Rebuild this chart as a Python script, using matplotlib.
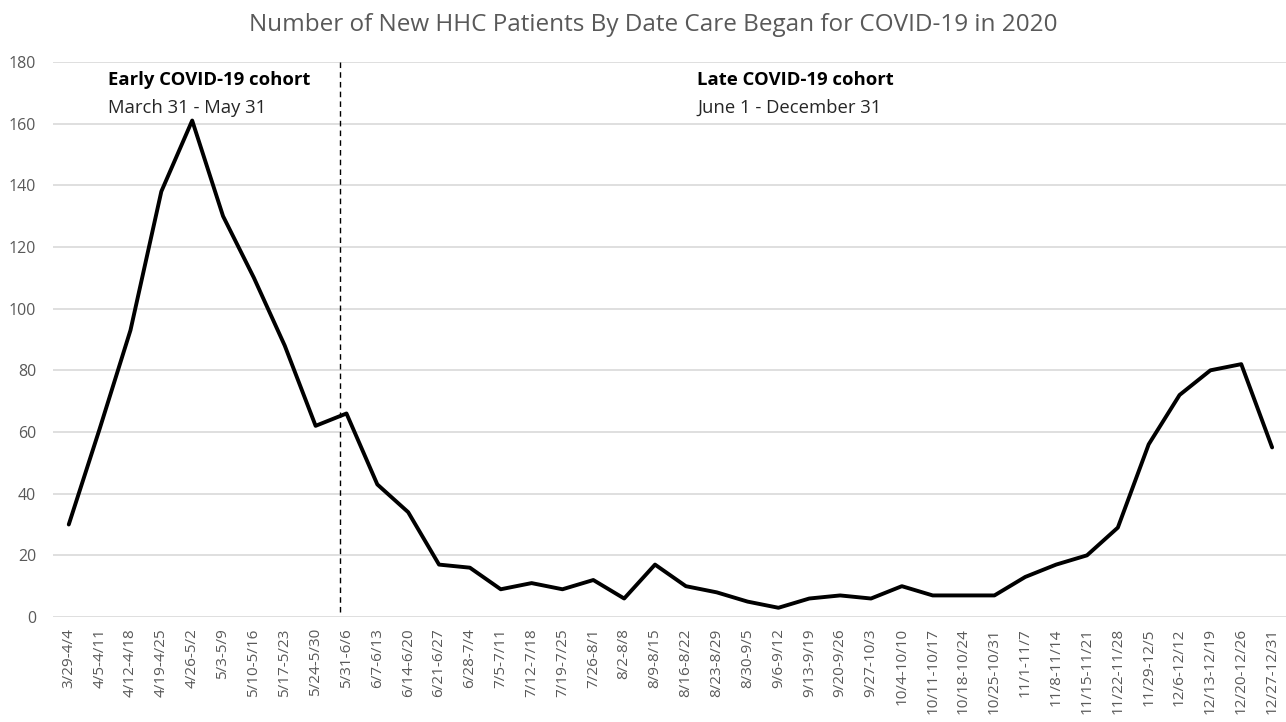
import matplotlib
matplotlib.use("Agg")
import matplotlib.pyplot as plt

# Weekly date ranges (category axis)
weeks = [
    "3/29-4/4", "4/5-4/11", "4/12-4/18", "4/19-4/25", "4/26-5/2",
    "5/3-5/9", "5/10-5/16", "5/17-5/23", "5/24-5/30", "5/31-6/6",
    "6/7-6/13", "6/14-6/20", "6/21-6/27", "6/28-7/4", "7/5-7/11",
    "7/12-7/18", "7/19-7/25", "7/26-8/1", "8/2-8/8", "8/9-8/15",
    "8/16-8/22", "8/23-8/29", "8/30-9/5", "9/6-9/12", "9/13-9/19",
    "9/20-9/26", "9/27-10/3", "10/4-10/10", "10/11-10/17", "10/18-10/24",
    "10/25-10/31", "11/1-11/7", "11/8-11/14", "11/15-11/21", "11/22-11/28",
    "11/29-12/5", "12/6-12/12", "12/13-12/19", "12/20-12/26", "12/27-12/31",
]

# New HHC patients per week
new_patients = [
    30, 61, 93, 138, 161, 130, 110, 88, 62, 66,
    43, 34, 17, 16, 9, 11, 9, 12, 6, 17,
    10, 8, 5, 3, 6, 7, 6, 10, 7, 7,
    7, 13, 17, 20, 29, 56, 72, 80, 82, 55,
]

y_ticks = [0, 20, 40, 60, 80, 100, 120, 140, 160, 180]

plt.rcParams["font.family"] = ["Open Sans", "DejaVu Sans"]
grey = "#595959"

fig = plt.figure(figsize=(12.86, 7.22), dpi=100)
ax = fig.add_axes([0.041, 0.1454, 0.959, 0.7688])

# Gridlines
for t in y_ticks:
    ax.axhline(t, color="#d9d9d9", linewidth=1.2, zorder=0)

x = list(range(len(weeks)))
ax.plot(x, new_patients, color="black", linewidth=2.8,
        solid_joinstyle="round", solid_capstyle="round", zorder=3)

# Cohort divider
ax.plot([8.78, 8.78], [1.5, 181], color="black", linewidth=1.0,
        linestyle=(0, (4, 3)), zorder=2)

ax.text(1.26, 174, "Early COVID-19 cohort", fontsize=13.3,
        fontweight="bold", color="black", va="center", ha="left")
ax.text(1.26, 165, "March 31 - May 31", fontsize=13.3,
        color="#262626", va="center", ha="left")
ax.text(20.37, 174, "Late COVID-19 cohort", fontsize=13.3,
        fontweight="bold", color="black", va="center", ha="left")
ax.text(20.37, 165, "June 1 - December 31", fontsize=13.3,
        color="#262626", va="center", ha="left")

ax.set_xlim(-0.52, 39.45)
ax.set_ylim(0, 180)
ax.set_xticks(x)
ax.set_xticklabels(weeks, rotation=90, fontsize=11, color=grey)
ax.set_yticks(y_ticks)
ax.set_yticklabels([str(t) for t in y_ticks], fontsize=11.5, color=grey)
ax.tick_params(axis="x", length=0, pad=8)
ax.tick_params(axis="y", length=0, pad=12)
for side in ["top", "right", "left", "bottom"]:
    ax.spines[side].set_visible(False)

fig.suptitle("Number of New HHC Patients By Date Care Began for COVID-19 in 2020",
             fontsize=17.5, color=grey, x=0.508, y=0.982)

fig.savefig("out.png", dpi=100)
